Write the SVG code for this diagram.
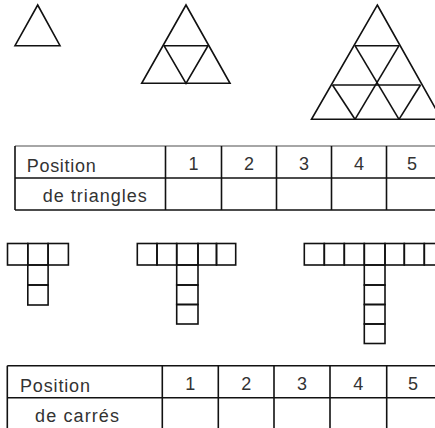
<svg xmlns="http://www.w3.org/2000/svg" width="435" height="428" viewBox="0 0 435 428">
<style>
.ln{fill:none;stroke:#111;stroke-width:1.6;stroke-linejoin:miter}
.grid{fill:none;stroke:#111;stroke-width:1.6}
.gray{stroke:#888}
.t{font-family:"Liberation Sans",Arial,sans-serif;font-size:18px;fill:#333}
.n{font-family:"Liberation Sans",Arial,sans-serif;font-size:18px;fill:#333;text-anchor:middle}
</style>
<rect width="435" height="428" fill="#fff"/>
<g id="triangle-1">
<polygon class="ln" points="37.7,5 60,45.7 15,45.7"/>
</g>
<g id="triangle-2">
<polygon class="ln" points="186,5 230,83.3 141.7,83.3"/>
<polyline class="ln" points="164,45.7 208,45.7 186,83.3 164,45.7"/>
</g>
<g id="triangle-3">
<polygon class="ln" points="377.3,5 441.5,119.3 311.5,119.3"/>
<line class="ln" x1="355" y1="45.7" x2="399" y2="45.7"/>
<line class="ln" x1="332.5" y1="85" x2="420.5" y2="85"/>
<polyline class="ln" points="355,45.7 399,119.3"/>
<polyline class="ln" points="399,45.7 355,119.3"/>
<polyline class="ln" points="332.5,85 355,119.3"/>
<polyline class="ln" points="420.5,85 399,119.3"/>
</g>
<g id="table-triangles">
<line class="grid gray" x1="15" y1="146" x2="436" y2="146"/>
<line class="grid" x1="15" y1="178" x2="436" y2="178"/>
<line class="grid" x1="15" y1="210" x2="436" y2="210"/>
<line class="grid" x1="15" y1="146" x2="15" y2="210"/>
<line class="grid" x1="165.5" y1="146" x2="165.5" y2="210"/>
<line class="grid" x1="221.5" y1="146" x2="221.5" y2="210"/>
<line class="grid" x1="276.5" y1="146" x2="276.5" y2="210"/>
<line class="grid" x1="331.5" y1="146" x2="331.5" y2="210"/>
<line class="grid" x1="386.5" y1="146" x2="386.5" y2="210"/>
<text class="t" x="26.7" y="171.5" textLength="69" lengthAdjust="spacing">Position</text>
<text class="t" x="42.7" y="201.5" textLength="104" lengthAdjust="spacing">de triangles</text>
<text class="n" x="193.5" y="170">1</text>
<text class="n" x="249" y="170">2</text>
<text class="n" x="304" y="170">3</text>
<text class="n" x="359" y="170">4</text>
<text class="n" x="412" y="170">5</text>
</g>
<g id="t-shape-1">
<rect class="ln" x="7.5" y="243.5" width="20.3" height="21.5"/>
<rect class="ln" x="27.8" y="243.5" width="20.3" height="21.5"/>
<rect class="ln" x="48.1" y="243.5" width="20.3" height="21.5"/>
<rect class="ln" x="27.8" y="265" width="20.3" height="20"/>
<rect class="ln" x="27.8" y="285" width="20.3" height="20"/>
</g>
<g id="t-shape-2">
<rect class="ln" x="137.3" y="243.5" width="19.7" height="21.5"/>
<rect class="ln" x="157" y="243.5" width="19.7" height="21.5"/>
<rect class="ln" x="176.7" y="243.5" width="21.3" height="21.5"/>
<rect class="ln" x="198" y="243.5" width="18.5" height="21.5"/>
<rect class="ln" x="216.5" y="243.5" width="19.2" height="21.5"/>
<rect class="ln" x="176.7" y="265" width="21.3" height="20"/>
<rect class="ln" x="176.7" y="285" width="21.3" height="19.5"/>
<rect class="ln" x="176.7" y="304.5" width="21.3" height="19.5"/>
</g>
<g id="t-shape-3">
<rect class="ln" x="304.3" y="243.5" width="20" height="21.5"/>
<rect class="ln" x="324.3" y="243.5" width="20" height="21.5"/>
<rect class="ln" x="344.3" y="243.5" width="20" height="21.5"/>
<rect class="ln" x="364.3" y="243.5" width="20.7" height="21.5"/>
<rect class="ln" x="385" y="243.5" width="19.3" height="21.5"/>
<rect class="ln" x="404.3" y="243.5" width="20" height="21.5"/>
<rect class="ln" x="424.3" y="243.5" width="20" height="21.5"/>
<rect class="ln" x="364.3" y="265" width="20.7" height="20"/>
<rect class="ln" x="364.3" y="285" width="20.7" height="19.5"/>
<rect class="ln" x="364.3" y="304.5" width="20.7" height="19.5"/>
<rect class="ln" x="364.3" y="324" width="20.7" height="19.5"/>
</g>
<g id="table-carres">
<line class="grid" x1="7.3" y1="365.7" x2="436" y2="365.7"/>
<line class="grid" x1="7.3" y1="397.7" x2="436" y2="397.7"/>
<line class="grid" x1="7.3" y1="365.7" x2="7.3" y2="430"/>
<line class="grid" x1="162.3" y1="365.7" x2="162.3" y2="430"/>
<line class="grid" x1="218.3" y1="365.7" x2="218.3" y2="430"/>
<line class="grid" x1="274" y1="365.7" x2="274" y2="430"/>
<line class="grid" x1="330" y1="365.7" x2="330" y2="430"/>
<line class="grid" x1="386.7" y1="365.7" x2="386.7" y2="430"/>
<text class="t" x="20" y="391.5" textLength="70" lengthAdjust="spacing">Position</text>
<text class="t" x="35" y="421.5" textLength="84" lengthAdjust="spacing">de carrés</text>
<text class="n" x="190.3" y="389.5">1</text>
<text class="n" x="246.2" y="389.5">2</text>
<text class="n" x="302" y="389.5">3</text>
<text class="n" x="358.3" y="389.5">4</text>
<text class="n" x="413" y="389.5">5</text>
</g>
</svg>
